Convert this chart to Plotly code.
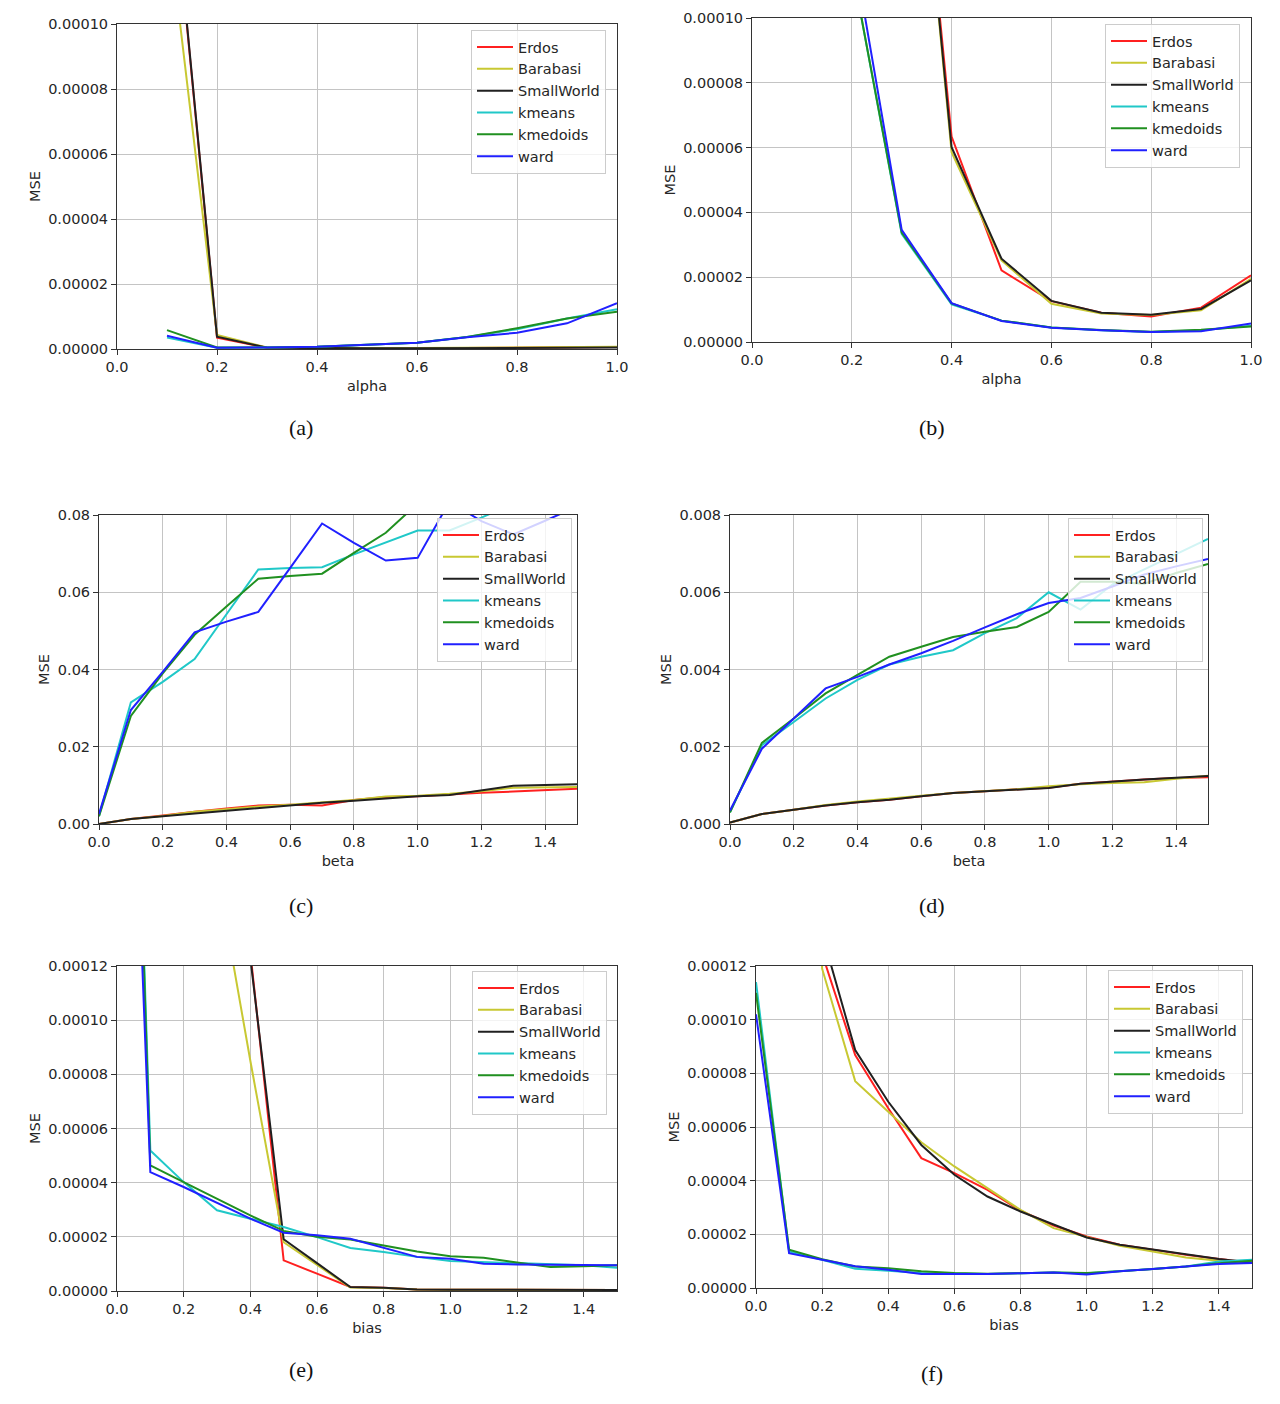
import plotly.graph_objects as go

# ---------------- data ----------------
series_names = ["Erdos", "Barabasi", "SmallWorld", "kmeans", "kmedoids", "ward"]
series_colors = ["#ff2020", "#c8c832", "#202020", "#20c8c8", "#209020", "#2020ff"]

# (a) alpha
alpha_x = [0.1, 0.2, 0.3, 0.4, 0.5, 0.6, 0.7, 0.8, 0.9, 1.0]
a_erdos = [0.000163, 0.0000035, 0.0000004, 0.0000002, 0.0000002, 0.0000002, 0.0000003, 0.0000004, 0.0000005, 0.0000006]
a_barabasi = [0.000134, 0.0000043, 0.0000005, 0.0000003, 0.0000003, 0.0000003, 0.0000004, 0.0000005, 0.0000006, 0.0000007]
a_smallworld = [0.000164, 0.0000038, 0.0000004, 0.0000002, 0.0000002, 0.0000002, 0.0000002, 0.0000003, 0.0000004, 0.0000005]
a_kmeans = [0.0000035, 0.0000004, 0.0000005, 0.0000007, 0.0000013, 0.0000019, 0.0000037, 0.0000061, 0.0000094, 0.0000122]
a_kmedoids = [0.0000058, 0.0000005, 0.0000005, 0.0000007, 0.0000013, 0.0000019, 0.0000037, 0.0000064, 0.0000094, 0.0000115]
a_ward = [0.0000041, 0.0000004, 0.0000005, 0.0000007, 0.0000013, 0.0000019, 0.0000036, 0.000005, 0.0000079, 0.0000141]

# (b) alpha
b_net_x = [0.2, 0.3, 0.4, 0.5, 0.6, 0.7, 0.8, 0.9, 1.0]
b_erdos = [0.00035, 0.00022, 0.0000634, 0.0000221, 0.0000126, 0.000009, 0.0000079, 0.0000106, 0.0000206]
b_barabasi = [0.00035, 0.00022, 0.0000586, 0.0000252, 0.0000118, 0.0000088, 0.0000083, 0.0000098, 0.0000195]
b_smallworld = [0.00035, 0.00022, 0.0000601, 0.0000257, 0.0000127, 0.000009, 0.0000084, 0.0000102, 0.000019]
b_kmeans = [0.00016, 0.000116, 0.0000334, 0.0000116, 0.0000066, 0.0000045, 0.0000036, 0.0000031, 0.0000036, 0.000005]
b_kmedoids = [0.00016, 0.000116, 0.0000338, 0.0000119, 0.0000066, 0.0000045, 0.0000037, 0.0000032, 0.0000038, 0.0000048]
b_ward = [0.00017, 0.000124, 0.0000346, 0.000012, 0.0000065, 0.0000044, 0.0000036, 0.0000031, 0.0000033, 0.0000057]

# (c) beta
beta_x = [0.0, 0.1, 0.2, 0.3, 0.4, 0.5, 0.6, 0.7, 0.8, 0.9, 1.0, 1.1, 1.2, 1.3, 1.4, 1.5]
c_erdos = [0.0, 0.0013, 0.0022, 0.0032, 0.004, 0.0048, 0.005, 0.0048, 0.0062, 0.007, 0.0072, 0.0077, 0.0081, 0.0084, 0.0088, 0.0091]
c_barabasi = [0.0, 0.0013, 0.0021, 0.0032, 0.0038, 0.0045, 0.005, 0.0056, 0.0062, 0.0071, 0.0073, 0.0078, 0.0085, 0.0094, 0.0095, 0.0096]
c_smallworld = [0.0, 0.0013, 0.002, 0.0027, 0.0034, 0.0042, 0.0048, 0.0055, 0.006, 0.0066, 0.0072, 0.0075, 0.0087, 0.0099, 0.0101, 0.0103]
c_kmeans = [0.002, 0.0315, 0.0368, 0.0427, 0.0543, 0.0659, 0.0663, 0.0665, 0.0698, 0.0728, 0.076, 0.076, 0.0793, 0.083, 0.085, 0.087]
c_kmedoids = [0.002, 0.028, 0.039, 0.049, 0.0563, 0.0635, 0.0642, 0.0648, 0.0702, 0.0754, 0.083, 0.085, 0.088, 0.09, 0.092, 0.094]
c_ward = [0.0026, 0.0295, 0.0394, 0.0496, 0.0524, 0.0549, 0.0663, 0.0778, 0.0728, 0.0682, 0.0689, 0.0835, 0.0784, 0.075, 0.0785, 0.0822]

# (d) beta
d_erdos = [0.00004, 0.00026, 0.00037, 0.00048, 0.00056, 0.00063, 0.00072, 0.0008, 0.00085, 0.00089, 0.00094, 0.00104, 0.0011, 0.00115, 0.00119, 0.00121]
d_barabasi = [0.00004, 0.00026, 0.00037, 0.00049, 0.00058, 0.00066, 0.00073, 0.0008, 0.00085, 0.0009, 0.00098, 0.00103, 0.00106, 0.00108, 0.00117, 0.00125]
d_smallworld = [0.00004, 0.00026, 0.00037, 0.00048, 0.00056, 0.00063, 0.00072, 0.0008, 0.00085, 0.00089, 0.00093, 0.00104, 0.0011, 0.00115, 0.0012, 0.00124]
d_kmeans = [0.0003, 0.00204, 0.00264, 0.00325, 0.00373, 0.00413, 0.00433, 0.0045, 0.00494, 0.00533, 0.006, 0.00555, 0.0062, 0.0066, 0.007, 0.00738]
d_kmedoids = [0.0003, 0.0021, 0.00273, 0.00338, 0.00386, 0.00433, 0.00459, 0.00484, 0.00498, 0.0051, 0.00549, 0.00627, 0.00627, 0.00622, 0.0065, 0.00673]
d_ward = [0.00035, 0.00195, 0.00273, 0.00351, 0.00381, 0.00413, 0.00442, 0.00474, 0.00509, 0.00543, 0.00572, 0.00585, 0.00615, 0.00646, 0.00667, 0.00686]

# (e) bias
bias_x = [0.0, 0.1, 0.2, 0.3, 0.4, 0.5, 0.6, 0.7, 0.8, 0.9, 1.0, 1.1, 1.2, 1.3, 1.4, 1.5]
e_erdos = [0.0009, 0.0007, 0.0005, 0.0003, 0.000125, 0.0000113, 0.0000064, 0.0000015, 0.0000012, 0.0000006, 0.0000005, 0.0000005, 0.0000005, 0.0000004, 0.0000004, 0.0000004]
e_barabasi = [0.0009, 0.0007, 0.0005, 0.000155, 0.000085, 0.000018, 0.0000095, 0.0000013, 0.0000011, 0.0000006, 0.0000005, 0.0000005, 0.0000005, 0.0000004, 0.0000004, 0.0000004]
e_smallworld = [0.0009, 0.0007, 0.0005, 0.0003, 0.000123, 0.0000191, 0.0000103, 0.0000015, 0.0000012, 0.0000006, 0.0000005, 0.0000005, 0.0000005, 0.0000004, 0.0000004, 0.0000004]
e_kmeans = [0.00043, 0.0000519, 0.0000402, 0.0000298, 0.0000267, 0.0000236, 0.0000199, 0.0000159, 0.0000144, 0.0000126, 0.0000111, 0.0000107, 0.0000101, 0.0000098, 0.0000095, 0.0000086]
e_kmedoids = [0.00043, 0.0000464, 0.0000402, 0.0000341, 0.0000279, 0.0000222, 0.00002, 0.000019, 0.0000169, 0.0000146, 0.0000128, 0.0000123, 0.0000105, 0.0000089, 0.0000091, 0.0000095]
e_ward = [0.00036, 0.0000439, 0.0000384, 0.0000325, 0.0000267, 0.0000215, 0.0000206, 0.0000193, 0.0000159, 0.0000126, 0.0000119, 0.0000101, 0.0000098, 0.0000097, 0.0000095, 0.0000095]

# (f) bias
f_erdos = [0.0008, 0.0005, 0.0001245, 0.0000868, 0.000067, 0.0000484, 0.0000428, 0.0000366, 0.0000288, 0.0000233, 0.0000192, 0.0000161, 0.0000143, 0.0000124, 0.0000108, 0.0000095]
f_barabasi = [0.0008, 0.0005, 0.000119, 0.0000771, 0.0000657, 0.0000543, 0.0000453, 0.0000372, 0.0000291, 0.0000223, 0.000019, 0.0000157, 0.0000136, 0.0000114, 0.0000102, 0.0000094]
f_smallworld = [0.0008, 0.0005, 0.000132, 0.0000887, 0.0000694, 0.0000533, 0.0000422, 0.0000341, 0.0000285, 0.0000236, 0.0000188, 0.0000161, 0.0000143, 0.0000124, 0.0000108, 0.0000094]
f_kmeans = [0.000114, 0.0000136, 0.0000105, 0.0000072, 0.0000064, 0.0000056, 0.0000054, 0.0000052, 0.0000055, 0.0000058, 0.0000055, 0.0000062, 0.0000071, 0.000008, 0.0000099, 0.0000105]
f_kmedoids = [0.00011, 0.0000143, 0.0000107, 0.000008, 0.0000074, 0.0000062, 0.0000056, 0.0000053, 0.0000055, 0.0000058, 0.0000056, 0.0000062, 0.0000071, 0.000008, 0.0000092, 0.0000102]
f_ward = [0.000102, 0.000013, 0.0000105, 0.0000081, 0.0000068, 0.0000052, 0.0000052, 0.0000052, 0.0000055, 0.0000058, 0.000005, 0.0000062, 0.0000071, 0.000008, 0.0000089, 0.0000093]

panels = [
    dict(label="(a)", xt="alpha", x=alpha_x, netx=alpha_x,
         ys=[a_erdos, a_barabasi, a_smallworld, a_kmeans, a_kmedoids, a_ward],
         xr=[0, 1.0], yr=[0, 0.0001], yfmt=".5f",
         box=(117, 617, 24, 349), leg=(471, 30), cap=(301, 427)),
    dict(label="(b)", xt="alpha", x=alpha_x, netx=b_net_x,
         ys=[b_erdos, b_barabasi, b_smallworld, b_kmeans, b_kmedoids, b_ward],
         xr=[0, 1.0], yr=[0, 0.0001], yfmt=".5f",
         box=(752, 1251, 18, 342), leg=(1105, 24), cap=(932, 427)),
    dict(label="(c)", xt="beta", x=beta_x, netx=beta_x,
         ys=[c_erdos, c_barabasi, c_smallworld, c_kmeans, c_kmedoids, c_ward],
         xr=[0, 1.5], yr=[0, 0.08], yfmt=".2f",
         box=(99, 577, 515, 824), leg=(437, 518), cap=(301, 905)),
    dict(label="(d)", xt="beta", x=beta_x, netx=beta_x,
         ys=[d_erdos, d_barabasi, d_smallworld, d_kmeans, d_kmedoids, d_ward],
         xr=[0, 1.5], yr=[0, 0.008], yfmt=".3f",
         box=(730, 1208, 515, 824), leg=(1068, 518), cap=(932, 905)),
    dict(label="(e)", xt="bias", x=bias_x, netx=bias_x,
         ys=[e_erdos, e_barabasi, e_smallworld, e_kmeans, e_kmedoids, e_ward],
         xr=[0, 1.5], yr=[0, 0.00012], yfmt=".5f",
         box=(117, 617, 966, 1291), leg=(472, 971), cap=(301, 1369)),
    dict(label="(f)", xt="bias", x=bias_x, netx=bias_x,
         ys=[f_erdos, f_barabasi, f_smallworld, f_kmeans, f_kmedoids, f_ward],
         xr=[0, 1.5], yr=[0, 0.00012], yfmt=".5f",
         box=(756, 1252, 966, 1288), leg=(1108, 970), cap=(932, 1373)),
]

OFF = 8  # page body margin
W, H = 1280 - OFF, 1404 - OFF
FONT = "DejaVu Sans"
TXT = "#262626"


def px(x):
    return (x - OFF) / W


def py(y):
    return 1 - (y - OFF) / H


fig = go.Figure()
layout = dict(width=W, height=H, autosize=False, template="none",
              margin=dict(l=0, r=0, t=0, b=0, pad=0),
              paper_bgcolor="white", plot_bgcolor="white",
              font=dict(family=FONT, size=14, color=TXT),
              showlegend=True)
annotations = []

for i, p in enumerate(panels):
    n = i + 1
    xa = "x" if n == 1 else f"x{n}"
    ya = "y" if n == 1 else f"y{n}"
    lg = "legend" if n == 1 else f"legend{n}"
    x0, x1, y0, y1 = p["box"]
    for k, (name, color) in enumerate(zip(series_names, series_colors)):
        xs = p["netx"] if k < 3 else p["x"]
        fig.add_trace(go.Scatter(
            x=xs, y=p["ys"][k], mode="lines", name=name,
            line=dict(color=color, width=2.0),
            xaxis=xa, yaxis=ya, legend=lg, legendgroup=f"{n}_{name}",
            showlegend=True))
    axcommon = dict(showline=True, mirror=True, linecolor="#333333", linewidth=1,
                    showgrid=True, gridcolor="#c4c4c4", gridwidth=1,
                    ticks="outside", ticklen=5, tickcolor="#333333", tickwidth=1,
                    zeroline=False, automargin=False,
                    tickfont=dict(family=FONT, size=14.5, color=TXT))
    layout["xaxis" if n == 1 else f"xaxis{n}"] = dict(
        axcommon, domain=[px(x0), px(x1)], range=p["xr"], dtick=0.2, tick0=0,
        tickformat=".1f", anchor=ya,
        title=dict(text=p["xt"], standoff=6, font=dict(family=FONT, size=14.5, color=TXT)))
    layout["yaxis" if n == 1 else f"yaxis{n}"] = dict(
        axcommon, domain=[py(y1), py(y0)], range=p["yr"], nticks=7,
        tickformat=p["yfmt"], anchor=xa,
        title=dict(text="MSE", standoff=4, font=dict(family=FONT, size=14.5, color=TXT)))
    lx, ly = p["leg"]
    layout[lg] = dict(x=px(lx), y=py(ly), xanchor="left", yanchor="top",
                      xref="paper", yref="paper",
                      bgcolor="rgba(255,255,255,0.8)", bordercolor="#cccccc", borderwidth=1,
                      font=dict(family=FONT, size=14.5, color=TXT),
                      tracegroupgap=0, itemwidth=36, itemclick=False)
    cx, cy = p["cap"]
    annotations.append(dict(text=p["label"], x=px(cx), y=py(cy), xref="paper", yref="paper",
                            showarrow=False, xanchor="center", yanchor="middle",
                            font=dict(family="Liberation Serif", size=22, color="#111111")))

layout["annotations"] = annotations
fig.update_layout(**layout)
fig.write_html("out.html")
